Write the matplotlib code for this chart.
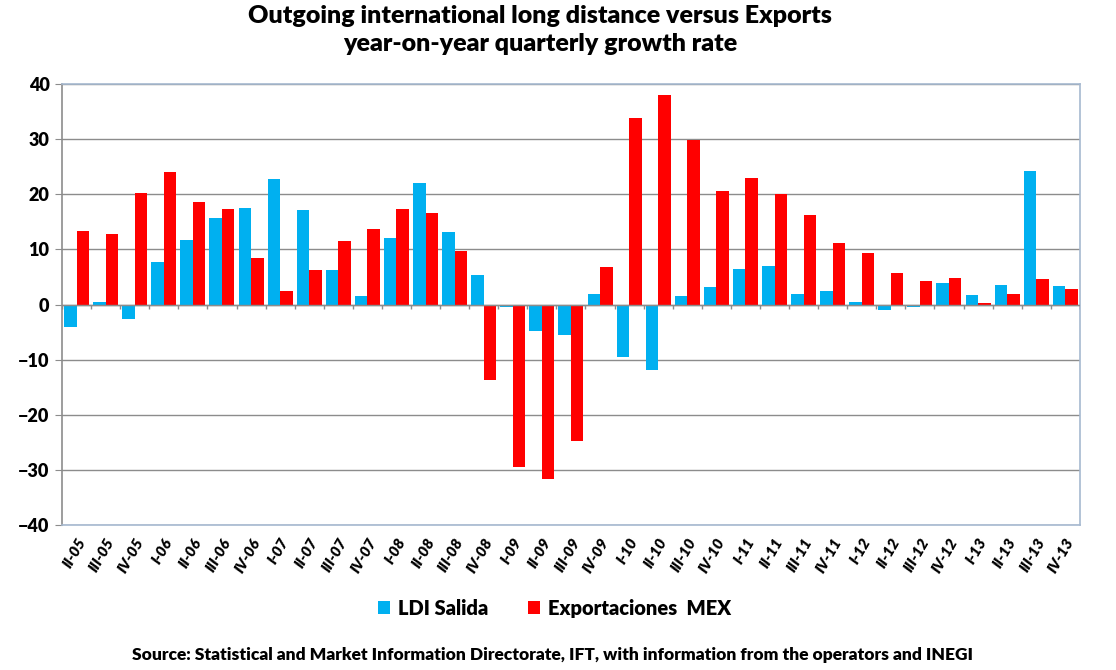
import numpy as np
import matplotlib.pyplot as plt

plt.rcParams['font.family'] = ['Lato', 'DejaVu Sans']

quarters = ['II-05', 'III-05', 'IV-05',
            'I-06', 'II-06', 'III-06', 'IV-06',
            'I-07', 'II-07', 'III-07', 'IV-07',
            'I-08', 'II-08', 'III-08', 'IV-08',
            'I-09', 'II-09', 'III-09', 'IV-09',
            'I-10', 'II-10', 'III-10', 'IV-10',
            'I-11', 'II-11', 'III-11', 'IV-11',
            'I-12', 'II-12', 'III-12', 'IV-12',
            'I-13', 'II-13', 'III-13', 'IV-13']

ldi = [-4.1, 0.5, -2.7,
       7.8, 11.7, 15.8, 17.5,
       22.7, 17.1, 6.2, 1.5,
       12.0, 22.0, 13.1, 5.3,
       -0.5, -4.8, -5.6, 2.0,
       -9.6, -11.9, 1.5, 3.1,
       6.4, 7.0, 2.0, 2.4,
       0.4, -0.9, -0.4, 3.9,
       1.8, 3.6, 24.3, 3.4]

exports = [13.3, 12.8, 20.3,
           24.1, 18.7, 17.3, 8.4,
           2.5, 6.2, 11.5, 13.8,
           17.3, 16.6, 9.8, -13.6,
           -29.4, -31.6, -24.7, 6.8,
           33.8, 38.1, 29.8, 20.7,
           23.0, 20.0, 16.2, 11.2,
           9.4, 5.7, 4.3, 4.8,
           0.2, 2.0, 4.6, 2.9]

blue = '#00B0F0'
red = '#FF0000'

fig = plt.figure(figsize=(11.16, 6.70), dpi=100)
ax = fig.add_axes([0.0556, 0.2164, 0.912, 0.658])

x = np.arange(len(quarters))
w = 0.43
ax.bar(x - w/2, ldi, w, color=blue, label='LDI Salida', zorder=3)
ax.bar(x + w/2, exports, w, color=red, label='Exportaciones  MEX', zorder=3)

ax.set_xlim(-0.5, len(quarters) - 0.5)
ax.set_ylim(-40, 40)
ax.set_yticks(range(-40, 41, 10))
ax.yaxis.grid(True, color='#8c8c8c', linewidth=1.0, zorder=0)
ax.tick_params(axis='y', labelsize=13, length=5, color='#8c8c8c', pad=4)
for lab in ax.get_yticklabels():
    lab.set_fontweight('heavy')

# zero line and category ticks
ax.axhline(0, color='#8c8c8c', linewidth=1.0, zorder=4)
ax.vlines(np.arange(len(quarters) + 1) - 0.5, -0.8, 0, color='#8c8c8c', linewidth=1.0, zorder=4)

ax.set_xticks(x)
ax.set_xticklabels(quarters, rotation=60, ha='right', rotation_mode='anchor',
                   fontsize=11, fontweight='heavy', style='italic')
ax.tick_params(axis='x', length=0, pad=8)

for s in ax.spines.values():
    s.set_color('#a6b9d0')
    s.set_linewidth(1.2)
ax.spines['left'].set_color('#8c8c8c')

fig.text(0.484, 0.992, 'Outgoing international long distance versus Exports\nyear-on-year quarterly growth rate',
         ha='center', va='top', fontsize=18, fontweight='heavy', linespacing=1.3)

fig.legend(loc='center', bbox_to_anchor=(0.497, 0.092), ncol=2, frameon=False,
           prop={'size': 14.5, 'weight': 'heavy'}, handlelength=0.6, handleheight=0.6,
           handletextpad=0.4, columnspacing=2.0)

fig.text(0.495, 0.022, 'Source: Statistical and Market Information Directorate, IFT, with information from the operators and INEGI',
         ha='center', va='center', fontsize=12.5, fontweight='heavy')

fig.savefig('out.png', dpi=100)
